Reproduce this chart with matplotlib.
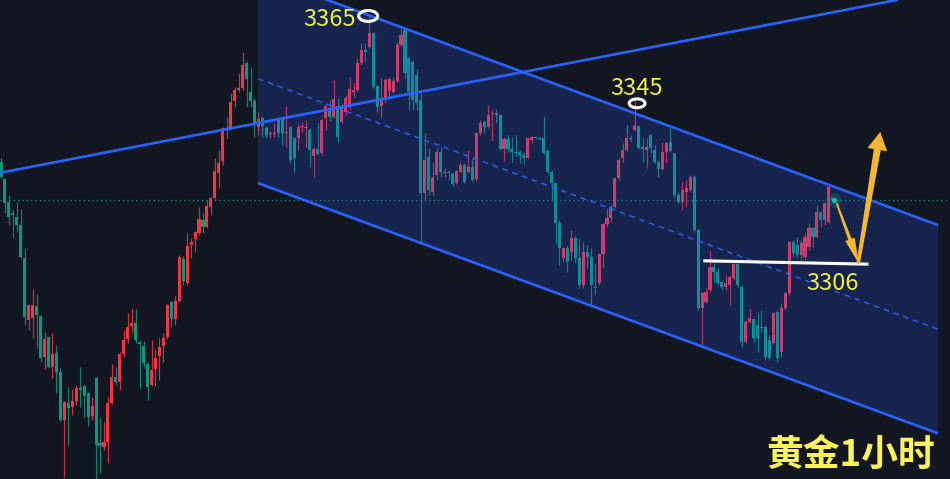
import numpy as np
import matplotlib
matplotlib.use("Agg")
import matplotlib.pyplot as plt
from matplotlib.patches import Polygon, Ellipse
from matplotlib.transforms import IdentityTransform

# gold, 1h candles (price)
opens = [
    3330.0, 3326.0, 3320.5, 3317.9, 3316.9, 3315.0, 3307.2, 3292.4, 3292.9, 3295.7,
    3293.4, 3283.6, 3288.4, 3281.2, 3284.5, 3280.0, 3268.6, 3272.6, 3271.7, 3273.1,
    3276.2, 3276.7, 3275.0, 3269.6, 3278.6, 3263.1, 3262.2, 3263.4, 3272.6, 3278.8,
    3277.6, 3284.3, 3287.9, 3291.0, 3291.7, 3287.2, 3286.2, 3281.9, 3276.9, 3280.7,
    3283.8, 3286.2, 3288.4, 3296.7, 3292.6, 3296.9, 3306.9, 3301.2, 3310.3, 3311.7,
    3313.1, 3316.2, 3314.5, 3319.3, 3321.5, 3327.4, 3330.3, 3338.1, 3338.1, 3344.5,
    3347.2, 3347.6, 3353.6, 3346.7, 3344.5, 3338.4, 3340.5, 3338.1, 3336.7, 3336.7,
    3340.0, 3340.5, 3336.9, 3338.4, 3335.7, 3335.7, 3338.4, 3338.1, 3337.6, 3331.5,
    3333.1, 3332.2, 3340.5, 3342.9, 3340.7, 3343.4, 3339.5, 3341.9, 3343.4, 3346.7,
    3347.2, 3353.6, 3356.7, 3357.4, 3360.7, 3348.1, 3343.4, 3344.8, 3346.9, 3346.7,
    3349.3, 3357.9, 3361.5, 3354.8, 3353.8, 3350.7, 3344.8, 3322.6, 3331.2, 3322.9,
    3326.9, 3332.4, 3327.4, 3327.6, 3327.2, 3325.0, 3327.6, 3329.3, 3327.6, 3328.8,
    3326.0, 3336.9, 3339.5, 3338.4, 3341.5, 3341.7, 3341.2, 3333.1, 3335.5, 3333.1,
    3332.4, 3332.4, 3331.7, 3331.0, 3335.3, 3336.0, 3335.7, 3335.7, 3332.6, 3327.6,
    3325.0, 3315.5, 3307.2, 3309.6, 3308.6, 3311.9, 3307.2, 3300.7, 3308.6, 3307.4,
    3300.3, 3301.2, 3308.1, 3315.3, 3316.7, 3319.3, 3326.2, 3331.0, 3332.9, 3335.7,
    3337.6, 3338.6, 3333.6, 3332.9, 3336.5, 3332.9, 3330.0, 3328.4, 3332.4, 3334.8,
    3332.2, 3322.2, 3320.5, 3322.9, 3323.4, 3326.5, 3313.8, 3295.3, 3296.7, 3299.6,
    3305.0, 3303.8, 3301.5, 3300.3, 3300.7, 3302.4, 3305.7, 3300.3, 3287.2, 3291.9,
    3292.6, 3291.2, 3290.7, 3290.7, 3287.6, 3286.9, 3294.3, 3284.8, 3295.3, 3298.8,
    3311.0, 3310.3, 3307.9, 3307.4, 3309.8, 3314.3, 3312.2, 3318.1, 3316.2, 3315.7,
    3321.5,
]
closes = [
    3326.5, 3320.3, 3316.9, 3317.4, 3315.0, 3307.4, 3293.1, 3296.0, 3296.0, 3293.6,
    3283.4, 3287.9, 3281.2, 3284.3, 3280.0, 3268.6, 3272.9, 3271.5, 3273.1, 3276.2,
    3275.7, 3274.3, 3269.3, 3271.9, 3262.6, 3262.4, 3263.4, 3272.6, 3278.8, 3277.6,
    3284.3, 3287.6, 3290.7, 3291.7, 3287.6, 3286.7, 3282.2, 3276.5, 3280.5, 3283.4,
    3286.0, 3288.1, 3296.0, 3292.6, 3296.9, 3307.4, 3301.7, 3310.0, 3311.0, 3313.4,
    3316.5, 3314.5, 3319.5, 3321.5, 3327.9, 3329.8, 3338.1, 3337.6, 3344.3, 3347.2,
    3347.6, 3353.1, 3349.8, 3344.5, 3339.3, 3340.3, 3338.6, 3336.5, 3336.9, 3336.9,
    3336.9, 3336.9, 3337.2, 3330.5, 3331.0, 3338.4, 3338.6, 3338.4, 3332.9, 3333.1,
    3331.9, 3340.0, 3343.4, 3340.7, 3345.0, 3336.0, 3343.1, 3345.3, 3347.4, 3347.2,
    3353.6, 3356.7, 3356.2, 3360.7, 3347.9, 3343.1, 3344.8, 3349.6, 3349.8, 3349.3,
    3357.9, 3360.3, 3351.2, 3346.7, 3344.8, 3344.1, 3322.6, 3330.5, 3323.4, 3326.5,
    3332.4, 3327.6, 3327.6, 3327.4, 3324.8, 3327.9, 3329.3, 3325.3, 3328.8, 3325.7,
    3336.9, 3339.3, 3338.4, 3341.2, 3341.7, 3341.2, 3333.1, 3335.5, 3333.1, 3332.4,
    3332.2, 3331.7, 3331.0, 3335.7, 3336.0, 3335.7, 3335.5, 3332.2, 3327.6, 3325.0,
    3315.5, 3309.6, 3309.6, 3306.2, 3311.9, 3307.2, 3300.7, 3308.6, 3307.4, 3300.7,
    3300.0, 3308.1, 3315.3, 3316.7, 3319.3, 3326.2, 3330.5, 3332.9, 3335.7, 3335.5,
    3338.8, 3333.4, 3333.1, 3333.6, 3333.4, 3330.0, 3328.4, 3332.4, 3334.5, 3332.6,
    3322.2, 3320.5, 3323.4, 3323.8, 3326.5, 3313.8, 3295.3, 3298.8, 3299.1, 3305.0,
    3303.8, 3301.2, 3300.3, 3301.2, 3302.6, 3305.7, 3300.7, 3287.2, 3291.9, 3292.9,
    3288.1, 3288.1, 3290.5, 3283.6, 3283.4, 3294.1, 3283.4, 3295.3, 3298.8, 3311.0,
    3308.4, 3307.9, 3310.7, 3312.2, 3314.3, 3312.2, 3318.1, 3316.2, 3320.3, 3324.1,
    3321.0,
]
highs = [
    3331.0, 3326.2, 3322.2, 3318.6, 3320.5, 3318.8, 3309.6, 3296.0, 3299.8, 3298.6,
    3293.6, 3289.6, 3288.6, 3289.3, 3286.5, 3281.0, 3273.1, 3276.5, 3276.0, 3276.9,
    3281.2, 3276.9, 3275.3, 3274.1, 3278.8, 3269.3, 3268.1, 3274.1, 3281.9, 3281.2,
    3284.8, 3290.0, 3294.1, 3295.3, 3295.0, 3287.6, 3287.4, 3282.4, 3287.6, 3285.5,
    3288.1, 3289.3, 3296.2, 3296.9, 3298.1, 3307.9, 3307.6, 3313.1, 3311.9, 3313.6,
    3319.3, 3317.9, 3321.0, 3321.7, 3331.0, 3332.9, 3338.4, 3340.7, 3346.5, 3347.9,
    3351.2, 3356.2, 3354.1, 3352.6, 3345.3, 3341.9, 3341.0, 3338.6, 3337.4, 3339.3,
    3340.7, 3340.7, 3343.4, 3338.6, 3336.0, 3339.3, 3339.5, 3340.0, 3338.1, 3333.6,
    3339.3, 3340.5, 3343.8, 3344.8, 3349.6, 3345.3, 3343.8, 3346.0, 3350.3, 3348.8,
    3354.8, 3358.4, 3358.4, 3364.5, 3361.0, 3348.4, 3350.0, 3350.0, 3350.3, 3350.3,
    3358.6, 3361.7, 3361.9, 3355.0, 3354.3, 3352.2, 3346.7, 3336.9, 3333.4, 3330.0,
    3333.4, 3333.6, 3328.6, 3328.1, 3327.6, 3328.1, 3330.0, 3329.8, 3332.9, 3331.0,
    3337.2, 3340.0, 3340.0, 3343.6, 3342.4, 3342.6, 3341.5, 3336.0, 3336.5, 3336.0,
    3336.5, 3332.9, 3332.4, 3336.0, 3336.2, 3336.0, 3336.0, 3341.0, 3333.1, 3328.1,
    3325.0, 3316.2, 3309.8, 3310.3, 3313.8, 3312.4, 3311.9, 3311.0, 3310.3, 3309.6,
    3306.0, 3308.4, 3315.5, 3319.1, 3319.8, 3326.5, 3331.0, 3334.5, 3338.8, 3336.5,
    3344.8, 3338.8, 3335.7, 3335.7, 3336.7, 3334.1, 3330.5, 3334.8, 3334.8, 3338.1,
    3332.2, 3322.9, 3325.3, 3325.7, 3327.0, 3327.0, 3314.3, 3299.1, 3300.0, 3308.8,
    3306.0, 3304.8, 3301.7, 3303.1, 3303.1, 3306.0, 3306.0, 3300.7, 3292.4, 3295.3,
    3292.9, 3294.3, 3294.8, 3291.2, 3288.8, 3294.3, 3294.8, 3296.5, 3299.1, 3311.2,
    3311.5, 3312.2, 3311.5, 3313.1, 3315.5, 3314.5, 3319.8, 3318.4, 3320.5, 3324.6,
    3321.7,
]
lows = [
    3326.2, 3317.9, 3315.0, 3311.9, 3313.4, 3307.2, 3291.2, 3290.0, 3288.1, 3285.7,
    3282.4, 3280.7, 3281.0, 3278.6, 3275.0, 3268.4, 3255.0, 3262.6, 3269.8, 3272.2,
    3271.7, 3269.3, 3267.2, 3268.6, 3254.5, 3256.0, 3261.5, 3258.4, 3272.4, 3276.9,
    3275.7, 3283.6, 3286.9, 3289.3, 3286.9, 3276.2, 3281.2, 3273.4, 3276.7, 3276.7,
    3278.1, 3282.4, 3287.9, 3290.7, 3291.2, 3296.7, 3300.7, 3300.7, 3307.2, 3308.6,
    3312.6, 3313.1, 3314.3, 3317.4, 3321.2, 3323.8, 3329.3, 3335.5, 3337.6, 3343.1,
    3346.7, 3347.2, 3343.1, 3343.1, 3336.0, 3336.5, 3336.0, 3335.7, 3335.7, 3336.0,
    3336.0, 3334.1, 3333.6, 3329.8, 3327.6, 3332.9, 3337.2, 3333.6, 3328.8, 3326.5,
    3331.7, 3331.7, 3337.6, 3339.8, 3340.5, 3334.8, 3339.3, 3341.2, 3342.4, 3345.5,
    3346.7, 3353.1, 3353.8, 3357.2, 3347.6, 3341.9, 3340.5, 3344.3, 3345.3, 3346.5,
    3349.1, 3357.6, 3350.0, 3342.4, 3342.4, 3342.4, 3310.7, 3321.0, 3322.2, 3322.2,
    3325.7, 3326.5, 3326.5, 3325.7, 3324.1, 3324.8, 3327.4, 3325.0, 3327.4, 3325.5,
    3325.5, 3336.5, 3336.9, 3338.1, 3335.3, 3339.3, 3332.9, 3330.3, 3332.4, 3330.0,
    3331.2, 3329.8, 3329.5, 3330.7, 3334.5, 3335.5, 3335.3, 3331.9, 3327.4, 3321.0,
    3310.7, 3305.5, 3306.2, 3303.8, 3306.7, 3306.0, 3300.0, 3300.0, 3304.8, 3295.5,
    3298.4, 3300.7, 3304.8, 3314.5, 3315.7, 3319.1, 3325.7, 3330.0, 3332.6, 3334.8,
    3337.4, 3333.1, 3330.0, 3328.6, 3332.2, 3329.8, 3326.5, 3328.1, 3329.8, 3332.4,
    3321.7, 3320.3, 3318.6, 3319.3, 3322.9, 3313.4, 3294.8, 3285.7, 3296.5, 3299.1,
    3301.5, 3300.7, 3299.6, 3299.6, 3296.0, 3302.0, 3300.3, 3286.0, 3286.9, 3291.7,
    3287.2, 3284.8, 3289.6, 3282.9, 3282.9, 3286.7, 3282.4, 3283.6, 3294.8, 3298.4,
    3307.4, 3307.2, 3306.7, 3306.7, 3309.1, 3309.8, 3311.9, 3314.5, 3315.0, 3315.5,
    3320.7,
]

last_price = 3321.0
labels = ["3365", "3345", "3306"]
title = "黄金1小时"

# drawn levels / channel (index, price)
chan_upper = [(64.9, 3374.7), (236.6, 3315.0)]
chan_lower = [(64.9, 3325.0), (236.6, 3265.4)]
trend_line = [(0, 3327.5), (230, 3369.3)]
support = [(177.3, 3306.5), (219.0, 3305.7)]

BG = "#131722"
UP = "#f23645"
DOWN = "#089981"
BLUE = "#2962ff"
GOLD = "#f6b633"
YELLOW = "#f0ed45"

o = np.array(opens)
c = np.array(closes)
h = np.maximum(np.array(highs), np.maximum(o, c))
l = np.minimum(np.array(lows), np.minimum(o, c))
x = np.arange(len(o))
col = np.where(c >= o, UP, DOWN)

fig = plt.figure(figsize=(9.5, 4.79), dpi=100, facecolor=BG)
ax = fig.add_axes([0, 0, 1, 1])
ax.set_facecolor(BG)
ax.axis("off")
ax.set_xlim(-0.25, 239.6)
ax.set_ylim(3254.55, 3368.6)

# candles
ax.vlines(x, l, h, colors=col, lw=0.85, alpha=0.85, zorder=2)
body = np.maximum(np.abs(c - o), 0.3)
ax.bar(x, body, bottom=np.minimum(o, c), width=0.78, color=col, lw=0, zorder=2)

# last price line
ax.axhline(last_price, color=DOWN, lw=0.9, ls=(0, (1, 2.5)), zorder=1.5)

# channel
(x0, u0), (x1, u1) = chan_upper
(_, d0), (_, d1) = chan_lower
ax.fill([x0, x1, x1, x0], [u0, u1, d1, d0], color=BLUE, alpha=0.2, lw=0, zorder=3)
ax.plot([x0, x1], [u0, u1], color=BLUE, lw=1.9, zorder=4, solid_capstyle="butt")
ax.plot([x0, x1], [d0, d1], color=BLUE, lw=1.9, zorder=4, solid_capstyle="butt")
ax.plot([x0, x1], [(u0 + d0) / 2, (u1 + d1) / 2], color=BLUE, lw=1.0,
        ls=(0, (4, 3.5)), zorder=4)
ax.axline(trend_line[0], trend_line[1], color=BLUE, lw=1.9, zorder=4)

# support
ax.plot(*zip(*support), color="white", lw=2.2, zorder=5, solid_capstyle="butt")

# circles on highs
ax.add_patch(Ellipse((92.7, 3364.8), 4.8, 2.6, fill=False, ec="white", lw=2.2, zorder=6))
ax.add_patch(Ellipse((160.6, 3344.0), 4.0, 2.1, fill=False, ec="white", lw=2.2, zorder=6))

# live price dot
ax.scatter([210.3], [last_price], s=110, color=DOWN, alpha=0.25, lw=0, zorder=6)
ax.scatter([210.3], [last_price], s=14, color="#22c39a", lw=0, zorder=6)


def taper_arrow(p0, p1, w0, w1, head_len, head_w):
    a = ax.transData.transform(p0)
    b = ax.transData.transform(p1)
    d = b - a
    u = d / np.hypot(*d)
    n = np.array([-u[1], u[0]])
    base = b - u * head_len
    pts = [a + n * w0 / 2, base + n * w1 / 2, base + n * head_w / 2, b,
           base - n * head_w / 2, base - n * w1 / 2, a - n * w0 / 2]
    ax.add_patch(Polygon(pts, closed=True, color=GOLD, lw=0, zorder=7,
                         transform=IdentityTransform()))


taper_arrow((211.0, 3320.2), (216.6, 3305.8), 1.8, 3.5, 26, 10)
taper_arrow((216.4, 3305.8), (222.0, 3337.2), 3.5, 7.0, 18, 20)

num_font = ["Noto Sans CJK SC", "DejaVu Sans"]
ax.text(83.0, 3362.4, labels[0], color=YELLOW, fontsize=17, family=num_font,
        ha="center", va="baseline", zorder=8)
ax.text(160.4, 3346.0, labels[1], color=YELLOW, fontsize=17, family=num_font,
        ha="center", va="baseline", zorder=8)
ax.text(210.0, 3299.6, labels[2], color=YELLOW, fontsize=17, family=num_font,
        ha="center", va="baseline", zorder=8)
ax.text(214.6, 3257.6, title, color="#fbf55a", fontsize=26.5, family=num_font,
        weight="bold", ha="center", va="baseline", zorder=8)

fig.savefig("out.png", dpi=100, facecolor=BG)
